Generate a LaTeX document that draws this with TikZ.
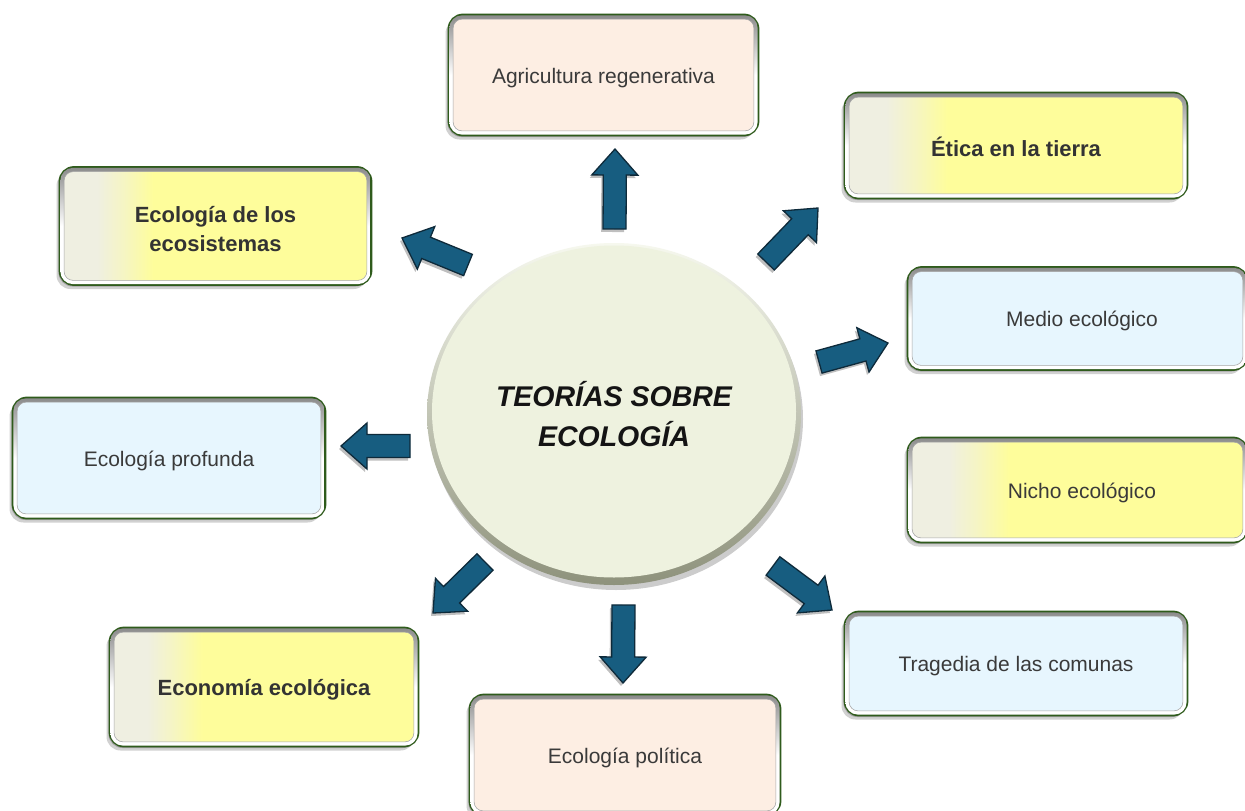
\documentclass[tikz,border=0pt]{standalone}
\usepackage{fontspec}
\setmainfont{Liberation Sans}
\usetikzlibrary{shapes.geometric,shadows,calc}
\definecolor{arrfill}{HTML}{175D80}
\definecolor{arrline}{HTML}{0E2A3A}
\definecolor{boxline}{HTML}{2F5B1C}
\definecolor{peach}{HTML}{FDEEE3}
\definecolor{lblue}{HTML}{E7F6FE}
\definecolor{ypale}{HTML}{EFEFE1}
\definecolor{yfull}{HTML}{FEFD9B}
\definecolor{circfill}{HTML}{EEF2DF}
\definecolor{circtop}{HTML}{F6F8EE}
\definecolor{circbot}{HTML}{8E927C}
\definecolor{txt}{HTML}{3A3A3A}
\pgfdeclarehorizontalshading{yelgrad}{100bp}{color(0bp)=(ypale); color(31bp)=(ypale); color(35bp)=(ypale!60!yfull); color(40bp)=(yfull); color(100bp)=(yfull)}
\newcommand\bevelin[1]{%
  \shade[top color=black!45, bottom color=white, middle color=white, even odd rule]
    [rounded corners=12.5pt] ([shift={(1.8pt,-1.8pt)}]#1.north west) rectangle ([shift={(-1.8pt,1.8pt)}]#1.south east)
    [rounded corners=9pt] ([shift={(5.5pt,-5.5pt)}]#1.north west) rectangle ([shift={(-5.5pt,5.5pt)}]#1.south east);
  \draw[black!35, line width=0.6pt, rounded corners=9pt] ([shift={(5.5pt,-5.5pt)}]#1.north west) rectangle ([shift={(-5.5pt,5.5pt)}]#1.south east);
}
\tikzset{
  box/.style={draw=boxline, line width=2.8pt, rounded corners=14pt, inner sep=0pt, text=txt,
    font=\fontsize{21}{25}\selectfont, align=center, text height=21pt,
    drop shadow={shadow xshift=-3.5pt, shadow yshift=-4.5pt, opacity=0.18, fill=black},
    drop shadow={shadow xshift=-1.5pt, shadow yshift=-2pt, opacity=0.22, fill=black}},
  peachbox/.style={box, fill=peach},
  bluebox/.style={box, fill=lblue},
  yelbox/.style={box, shade, shading=yelgrad},
  boldtxt/.style={font=\fontsize{22}{29}\selectfont\bfseries, text=black!80, text height=22pt},
  barrow/.style={draw=arrline, fill=arrfill, line width=1.3pt, line join=miter,
    drop shadow={shadow xshift=-2pt, shadow yshift=-3pt, opacity=0.25, fill=black},
    to path={let \p1=(\tikztostart), \p2=(\tikztotarget),
      \n1={atan2(\y2-\y1,\x2-\x1)}, \n2={veclen(\x2-\x1,\y2-\y1)-26} in
      ($(\p1)+(\n1+90:11.5pt)$) -- ($(\p1)+(\n1:\n2)+(\n1+90:11.5pt)$)
      -- ($(\p1)+(\n1:\n2)+(\n1+90:23pt)$) -- (\p2)
      -- ($(\p1)+(\n1:\n2)+(\n1-90:23pt)$) -- ($(\p1)+(\n1:\n2)+(\n1-90:11.5pt)$)
      -- ($(\p1)+(\n1-90:11.5pt)$) -- cycle}}
}
\begin{document}
\begin{tikzpicture}[x=1pt,y=-1pt]
\useasboundingbox (0,0) rectangle (1245,811);
\clip (0,0) rectangle (1245,811);
\fill[white] (0,0) rectangle (1245,811);

% centre
\node[ellipse, minimum width=374pt, minimum height=342pt, inner sep=0pt,
  top color=circtop, bottom color=circbot,
  drop shadow={shadow xshift=2pt, shadow yshift=-5pt, opacity=0.2, fill=black},
  path picture={\fill[circfill] ([yshift=2.5pt]path picture bounding box.center) ellipse (182pt and 166pt);},
  font=\fontsize{28.5}{40}\selectfont\bfseries\itshape, align=center, text=black!92] (c) at (614,414) {TEORÍAS SOBRE\\ECOLOGÍA};

% boxes
\node[peachbox, minimum width=309pt, minimum height=120pt] (b1) at (603.5,75) {Agricultura regenerativa};
\node[yelbox, boldtxt, minimum width=342pt, minimum height=105pt] (b2) at (1016,145.5) {Ética en la tierra};
\node[yelbox, boldtxt, text height=51pt, minimum width=311pt, minimum height=117pt] (b3) at (215.5,226) {Ecología de los\\ecosistemas};
\node[bluebox, minimum width=339pt, minimum height=102pt] (b4) at (1077.5,318.5) {\hspace*{9pt}Medio ecológico};
\node[bluebox, minimum width=312pt, minimum height=120pt] (b5) at (169,458) {Ecología profunda};
\node[yelbox, minimum width=339pt, minimum height=104pt] (b6) at (1077.5,490) {\hspace*{9pt}Nicho ecológico};
\node[bluebox, minimum width=342pt, minimum height=103pt] (b7) at (1016,663.5) {Tragedia de las comunas};
\node[yelbox, boldtxt, minimum width=308pt, minimum height=118pt] (b8) at (264,687) {Economía ecológica};
\node[peachbox, minimum width=310pt, minimum height=120pt] (b9) at (625,755) {Ecología política};
\foreach \bb in {b1,b2,b3,b4,b5,b6,b7,b8,b9} {\bevelin{\bb}}

% arrow ends
\coordinate (tU) at (614.5,229);  \coordinate (hU) at (615,149);
\coordinate (tUL) at (468,265);   \coordinate (hUL) at (402,238);
\coordinate (tUR) at (766,262);   \coordinate (hUR) at (818,208);
\coordinate (tR) at (819,362);    \coordinate (hR) at (888,343);
\coordinate (tL) at (410,446);    \coordinate (hL) at (341,446);
\coordinate (tLL) at (485,562);   \coordinate (hLL) at (433,613);
\coordinate (tD) at (623.5,605);  \coordinate (hD) at (623,683);
\coordinate (tLR) at (773,566);   \coordinate (hLR) at (832,610);

\draw[barrow] (tU) to (hU);
\draw[barrow] (tUL) to (hUL);
\draw[barrow] (tUR) to (hUR);
\draw[barrow] (tR) to (hR);
\draw[barrow] (tL) to (hL);
\draw[barrow] (tLL) to (hLL);
\draw[barrow] (tD) to (hD);
\draw[barrow] (tLR) to (hLR);
\end{tikzpicture}
\end{document}
